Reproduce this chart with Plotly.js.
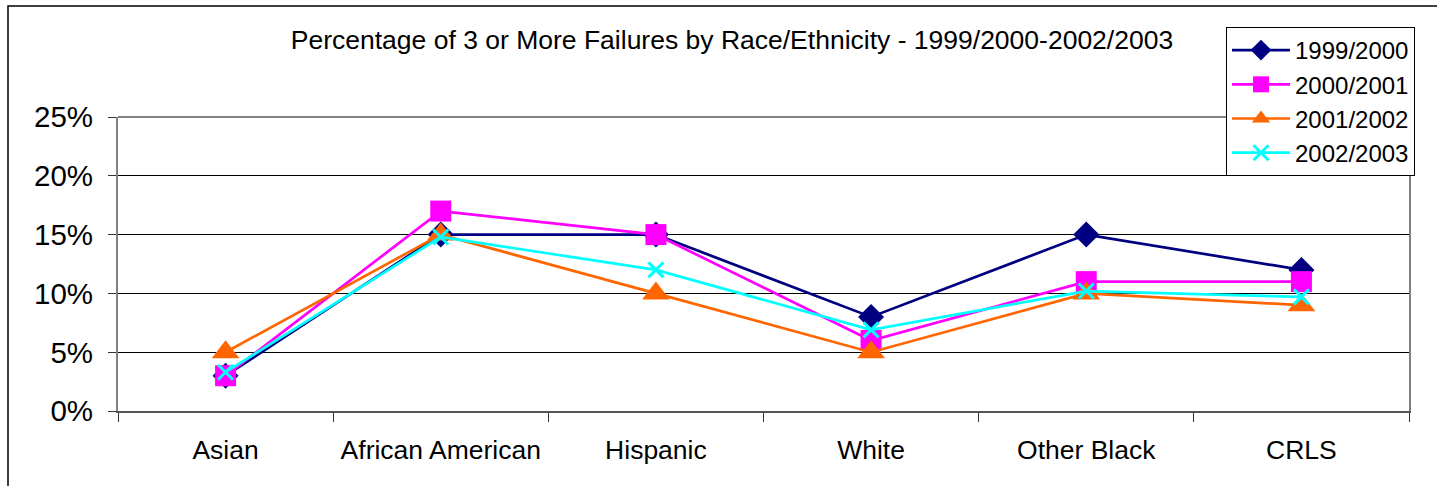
<!DOCTYPE html>
<html>
<head>
<meta charset="utf-8">
<script src="https://cdn.plot.ly/plotly-3.0.1.min.js"></script>
<style>
  html, body { margin: 0; padding: 0; background: #ffffff; }
  #chart { width: 1437px; height: 486px; }
</style>
</head>
<body>
<div id="chart"></div>
<script>
const categories = ["Asian", "African American", "Hispanic", "White", "Other Black", "CRLS"];
const seriesNames = ["1999/2000", "2000/2001", "2001/2002", "2002/2003"];
const y1999 = [3, 15, 15, 8, 15, 12];
const y2000 = [3, 17, 15, 6, 11, 11];
const y2001 = [5, 15, 10, 5, 10, 9];
const y2002 = [3.3, 14.8, 12, 6.9, 10.2, 9.7];
const yTicks = [0, 5, 10, 15, 20, 25];
const titleText = "Percentage of 3 or More Failures by Race/Ethnicity - 1999/2000-2002/2003";

const styles = [
  { color: "#000080", symbol: "diamond", size: 20 },
  { color: "#FF00FF", symbol: "square", size: 21 },
  { color: "#FF6600", symbol: "triangle-up", size: 24 },
  { color: "#00FFFF", symbol: "x-thin", size: 15 }
];
const values = [y1999, y2000, y2001, y2002];

const traces = values.map((v, i) => {
  const s = styles[i];
  const marker = { color: s.color, symbol: s.symbol, size: s.size };
  if (s.symbol === "x-thin") {
    marker.line = { color: s.color, width: 3 };
  } else {
    marker.line = { width: 0 };
  }
  return {
    type: "scatter",
    mode: "lines+markers",
    name: seriesNames[i],
    legendgroup: "g" + i,
    x: categories,
    y: v,
    line: { color: s.color, width: 2.7 },
    marker: marker,
    cliponaxis: false,
    hoverinfo: "skip"
  };
});

const L = 118, R = 1409, T = 117, B = 411, W = 1437, H = 486;
const pw = R - L, ph = B - T;
const px = v => (v - L) / pw;
const py = v => (B - v) / ph;

const layout = {
  width: W,
  height: H,
  margin: { l: L, r: W - R, t: T, b: H - B, pad: 0 },
  paper_bgcolor: "#ffffff",
  plot_bgcolor: "#ffffff",
  font: { family: "Liberation Sans, Arial, sans-serif", color: "#000000" },
  title: {
    text: titleText,
    font: { size: 26.5, family: "Liberation Sans, Arial, sans-serif", color: "#000000" },
    x: (732) / W,
    xanchor: "center",
    y: 1 - 40 / H,
    yanchor: "middle"
  },
  showlegend: true,
  legend: {
    x: px(1226),
    y: py(27),
    xanchor: "left",
    yanchor: "top",
    bgcolor: "#ffffff",
    bordercolor: "#000000",
    borderwidth: 1,
    font: { size: 24, family: "Liberation Sans, Arial, sans-serif", color: "#000000" },
    tracegroupgap: 0,
    itemwidth: 58
  },
  xaxis: {
    type: "category",
    range: [-0.5, categories.length - 0.5],
    showgrid: false,
    zeroline: false,
    showline: true,
    linecolor: "#555555",
    linewidth: 2,
    ticks: "outside",
    tickson: "boundaries",
    ticklen: 9,
    tickwidth: 1,
    tickcolor: "#333333",
    tickfont: { size: 26.5, family: "Liberation Sans, Arial, sans-serif", color: "#000000" },
    ticklabelstandoff: 14,
    fixedrange: true
  },
  yaxis: {
    range: [0, 25],
    tickvals: yTicks,
    ticktext: yTicks.map(t => t + "%"),
    showgrid: true,
    gridcolor: "#000000",
    gridwidth: 1,
    zeroline: false,
    showline: true,
    mirror: true,
    linecolor: "#808080",
    linewidth: 2,
    ticks: "outside",
    ticklen: 8,
    tickwidth: 1,
    tickcolor: "#333333",
    tickfont: { size: 29.5, family: "Liberation Sans, Arial, sans-serif", color: "#000000" },
    ticklabelstandoff: 9,
    fixedrange: true
  },
  shapes: [
    {
      type: "line", xref: "paper", yref: "paper",
      x0: 0, x1: 1, y0: 1, y1: 1,
      line: { color: "#808080", width: 2 }, layer: "above"
    },
    {
      type: "rect", xref: "paper", yref: "paper",
      x0: px(8), x1: px(1460), y0: py(520), y1: py(6),
      line: { color: "#000000", width: 1.5 }, fillcolor: "rgba(0,0,0,0)", layer: "below"
    }
  ]
};

Plotly.newPlot("chart", traces, layout, { staticPlot: true, displayModeBar: false });
</script>
</body>
</html>
